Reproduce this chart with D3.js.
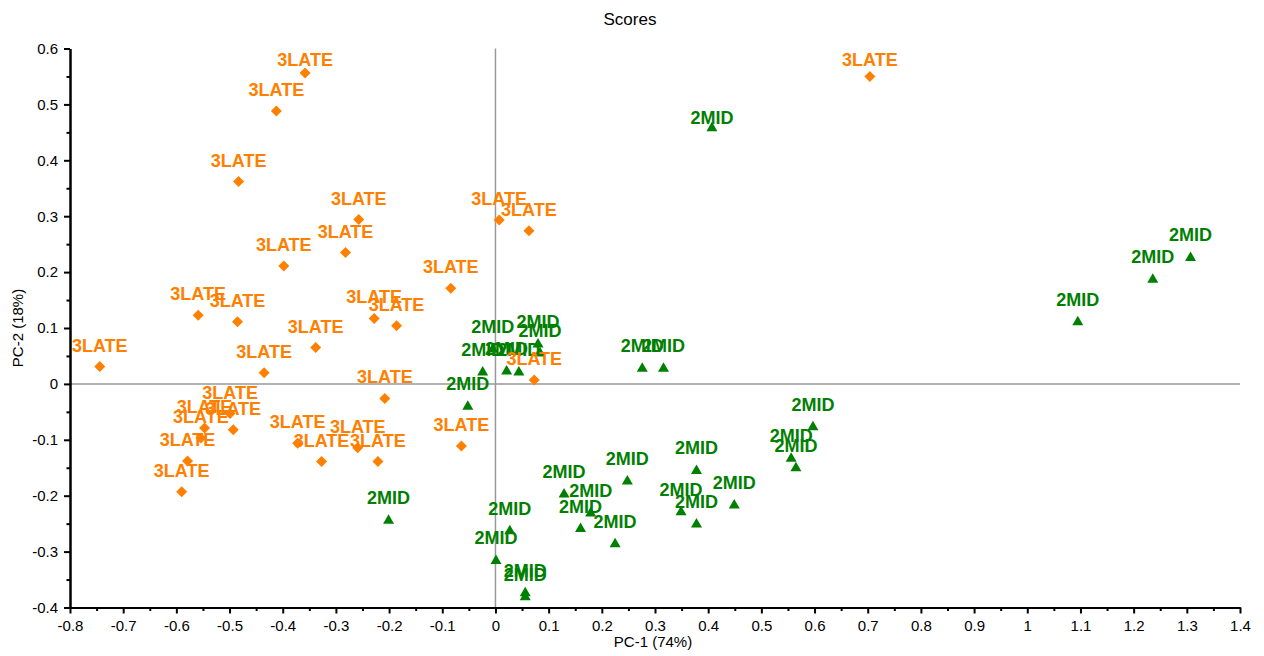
<!DOCTYPE html>
<html>
<head>
<meta charset="utf-8">
<script src="https://cdn.jsdelivr.net/npm/d3@7"></script>
<style>
  body { margin: 0; background: #fff; }
  svg text { font-family: 'Liberation Sans', Arial, sans-serif; }
  .axis path, .axis line { stroke: #000; stroke-width: 2; }
  .axis text { font-size: 15px; fill: #000; }
  .zero-line { stroke: #999; stroke-width: 1.5; }
  .pt-label { font-size: 18px; font-weight: bold; text-anchor: middle; }
</style>
</head>
<body>
<div id="chart"></div>
<script>
// Scores for the two groups (PC-1, PC-2)
const lateName = '3LATE';
const lateX = [-0.358, -0.412, -0.483, -0.257, -0.282, -0.398, -0.084, 0.007, 0.063, -0.559,
  -0.485, -0.228, -0.186, -0.338, -0.744, -0.435, 0.073, -0.208, -0.499, -0.547,
  -0.493, -0.554, -0.579, -0.590, -0.372, -0.327, -0.259, -0.221, -0.064, 0.704];
const lateY = [0.556, 0.488, 0.362, 0.294, 0.235, 0.211, 0.171, 0.293, 0.274, 0.123,
  0.111, 0.117, 0.104, 0.065, 0.031, 0.020, 0.007, -0.026, -0.053, -0.079,
  -0.082, -0.097, -0.138, -0.193, -0.106, -0.139, -0.114, -0.139, -0.111, 0.550];

const midName = '2MID';
const midX = [0.407, 1.095, 1.236, 1.307, 0.276, 0.316, -0.005, 0.080, 0.084, -0.024,
  0.021, 0.044, -0.052, 0.597, 0.556, 0.565, 0.378, 0.248, 0.129, 0.449,
  0.349, 0.179, 0.378, 0.160, 0.027, 0.225, 0.001, 0.056, 0.056, -0.201];
const midY = [0.460, 0.113, 0.189, 0.228, 0.030, 0.030, 0.064, 0.073, 0.057, 0.023,
  0.025, 0.023, -0.038, -0.075, -0.131, -0.148, -0.153, -0.172, -0.195, -0.215,
  -0.227, -0.229, -0.249, -0.257, -0.261, -0.284, -0.314, -0.372, -0.379, -0.242];

const xDomain = [-0.8, 1.4];
const yDomain = [-0.4, 0.6];
const titleText = 'Scores';
const xTitle = 'PC-1 (74%)';
const yTitle = 'PC-2 (18%)';

const W = 1264, H = 656;
const margin = { left: 70, right: 24, top: 48.5, bottom: 48.5 };
const width = W - margin.left - margin.right;
const height = H - margin.top - margin.bottom;

const svg = d3.select('#chart').append('svg')
  .attr('width', W)
  .attr('height', H);
const g = svg.append('g')
  .attr('transform', 'translate(' + margin.left + ',' + margin.top + ')');

const x = d3.scaleLinear().domain(xDomain).range([0, width]);
const y = d3.scaleLinear().domain(yDomain).range([height, 0]);

const fmt = d => String(+d.toFixed(1));
const xMajor = d3.range(-8, 15).map(i => i / 10);
const xMinor = d3.range(-8, 14).map(i => i / 10 + 0.05);
const yMajor = d3.range(-4, 7).map(i => i / 10);
const yMinor = d3.range(-4, 6).map(i => i / 10 + 0.05);

// Title and axis titles
svg.append('text')
  .attr('x', margin.left + width / 2 - 25)
  .attr('y', 25)
  .attr('text-anchor', 'middle')
  .style('font-size', '17px')
  .text(titleText);
svg.append('text')
  .attr('x', margin.left + width / 2 - 2)
  .attr('y', 647)
  .attr('text-anchor', 'middle')
  .style('font-size', '15px')
  .text(xTitle);
svg.append('text')
  .attr('transform', 'translate(23,' + (margin.top + height / 2) + ') rotate(-90)')
  .attr('text-anchor', 'middle')
  .style('font-size', '15px')
  .text(yTitle);

// Zero reference lines
g.append('line').attr('class', 'zero-line')
  .attr('x1', x(0)).attr('x2', x(0)).attr('y1', 0).attr('y2', height);
g.append('line').attr('class', 'zero-line')
  .attr('x1', 0).attr('x2', width).attr('y1', y(0)).attr('y2', y(0));

// Axes
g.append('g').attr('class', 'axis')
  .attr('transform', 'translate(0,' + height + ')')
  .call(d3.axisBottom(x).tickValues(xMinor).tickSize(3.5).tickFormat('').tickSizeOuter(0));
g.append('g').attr('class', 'axis')
  .attr('transform', 'translate(0,' + height + ')')
  .call(d3.axisBottom(x).tickValues(xMajor).tickSize(6).tickPadding(7).tickFormat(fmt).tickSizeOuter(0));
g.append('g').attr('class', 'axis')
  .call(d3.axisLeft(y).tickValues(yMinor).tickSize(3.5).tickFormat('').tickSizeOuter(0));
g.append('g').attr('class', 'axis')
  .call(d3.axisLeft(y).tickValues(yMajor).tickSize(6).tickPadding(6).tickFormat(fmt).tickSizeOuter(0));

// Points
const midData = midX.map((v, i) => ({ x: v, y: midY[i], name: midName, i: i }));
const lateData = lateX.map((v, i) => ({ x: v, y: lateY[i], name: lateName, i: i }));

const triangle = 'M0,-5L5.5,4.5L-5.5,4.5Z';
const diamond = 'M0,-5.5L5.5,0L0,5.5L-5.5,0Z';
// labels sit above the marker, kept inside the plot top; one label was placed lower in the original
const labelDrop = { '2MID-0': 12 };
const labelY = d => Math.max(y(d.y) - 15 + (labelDrop[d.name + '-' + d.i] || 0), 17);

function drawSeries(data, path, color) {
  g.selectAll(null)
    .data(data)
    .enter()
    .append('path')
    .attr('d', path)
    .attr('fill', color)
    .attr('transform', d => 'translate(' + x(d.x) + ',' + y(d.y) + ')');
  g.selectAll(null)
    .data(data)
    .enter()
    .append('text')
    .attr('class', 'pt-label')
    .attr('fill', color)
    .attr('x', d => x(d.x))
    .attr('y', labelY)
    .text(d => d.name);
}

drawSeries(midData, triangle, '#008000');
drawSeries(lateData, diamond, '#ff8000');
</script>
</body>
</html>
